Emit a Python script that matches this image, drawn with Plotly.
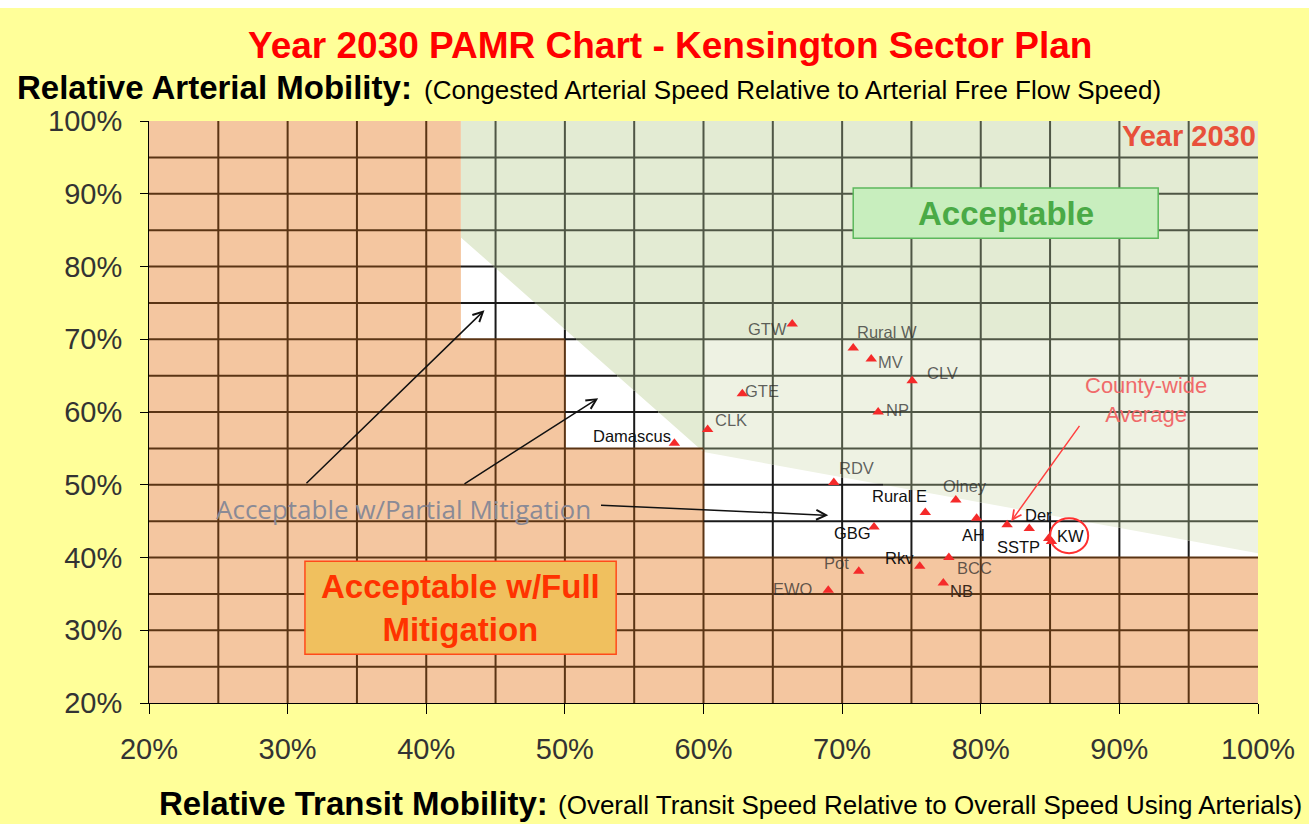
import numpy as np
import plotly.graph_objects as go

# ---- data -----------------------------------------------------------------
policy_areas = ["GTW", "Rural W", "MV", "CLV", "GTE", "NP", "CLK", "Damascus",
                "RDV", "Rural E", "Olney", "AH", "GBG", "County-wide Average",
                "Der", "SSTP", "KW", "Rkv", "BCC", "Pot", "NB", "EWO"]
# relative transit mobility, %
transit_mobility = [66.4, 70.8, 72.1, 75.05, 62.8, 72.6, 60.3, 57.9,
                    69.4, 76.0, 78.2, 79.7, 72.3, 81.9,
                    83.5, 84.9, 85.1, 75.6, 77.7, 71.2, 77.3, 69.0]
# relative arterial mobility, %
arterial_mobility = [72.1, 68.8, 67.3, 64.3, 62.5, 60.0, 57.6, 55.7,
                     50.3, 46.2, 47.9, 45.4, 44.2, 44.5,
                     44.0, 42.6, 42.2, 38.8, 40.0, 38.1, 36.5, 35.5]

# zone boundaries (%): full-mitigation staircase and acceptable line
full_mit_x = [20, 42.5, 42.5, 50, 50, 60, 60, 100]
full_mit_y = [100, 100, 70, 70, 55, 55, 40, 40]
accept_x = [42.5, 60, 100]
accept_y = [84, 54.5, 40.6]

tick_vals = [20, 30, 40, 50, 60, 70, 80, 90, 100]
tick_text = ["20%", "30%", "40%", "50%", "60%", "70%", "80%", "90%", "100%"]
grid_vals = list(range(25, 100, 5))

# ---- styling --------------------------------------------------------------
SANS = "Liberation Sans, Arial, sans-serif"
W, H = 1309, 824
ML, MR, MT, MB = 149, 51, 121, 121

ORANGE = "#f4c6a0"
GREEN_HI = "#e3ebd3"
GREEN_LO = "#eef2e3"
BROWN_GRID = "#5a3414"
BLACK_GRID = "#1a1a1a"
OLIVE_GRID = "#4f5645"
GRAY_LBL = "rgba(40,40,40,0.72)"
DARK_LBL = "#111111"

# label offsets in pixels (dx right, dy down) and label colour per area
label_style = {
    "GTW": (-25, 5, GRAY_LBL), "Rural W": (34, -16, GRAY_LBL),
    "MV": (19, 3, GRAY_LBL), "CLV": (30, -8, GRAY_LBL),
    "GTE": (20, -3, GRAY_LBL), "NP": (19, -2, GRAY_LBL),
    "CLK": (23, -9, GRAY_LBL), "Damascus": (-42, -7, DARK_LBL),
    "RDV": (23, -15, GRAY_LBL), "Rural E": (-26, -16, DARK_LBL),
    "Olney": (9, -14, GRAY_LBL), "AH": (-3, 17, DARK_LBL),
    "GBG": (-22, 6, DARK_LBL), "Der": (9, -13, DARK_LBL),
    "SSTP": (-30, 8, DARK_LBL), "KW": (19, -5, DARK_LBL),
    "Rkv": (-20, -8, DARK_LBL), "BCC": (26, 10, GRAY_LBL),
    "Pot": (-22, -8, GRAY_LBL), "NB": (18, 8, "#3a2a1c"),
    "EWO": (-35, -1, GRAY_LBL),
}


def px_x(px):
    return (px - ML) / (W - ML - MR)


def px_y(py):
    return (H - MB - py) / (H - MT - MB)


# horizontal steps of the full-mitigation staircase: (x_start, x_end, top)
steps = [(full_mit_x[i], full_mit_x[i + 1], full_mit_y[i])
         for i in range(len(full_mit_x) - 1) if full_mit_y[i] == full_mit_y[i + 1]]


def orange_top(x):
    for a, b, top in steps:
        if a < x <= b:
            return top
    return 20


def orange_right(h):
    return max(b for a, b, top in steps if top >= h)


def accept_at_x(x):
    return float(np.interp(x, accept_x, accept_y))


def accept_at_y(h):
    return float(np.interp(h, accept_y[::-1], accept_x[::-1]))


def path_from(xs, ys):
    pts = " L ".join(f"{x},{y}" for x, y in zip(xs, ys))
    return f"M {pts} Z"


shapes = []

# zone fills
orange_xs = [20] + full_mit_x + [100]
orange_ys = [20] + full_mit_y + [20]
shapes.append(dict(type="path", path=path_from(orange_xs, orange_ys),
                   xref="x", yref="y", fillcolor=ORANGE, line_width=0, layer="below"))
hi_xs = [accept_x[0], 100, 100, accept_x[1], accept_x[1], accept_x[0]]
hi_ys = [100, 100, 70, 70, accept_y[1], accept_y[0]]
shapes.append(dict(type="path", path=path_from(hi_xs, hi_ys),
                   xref="x", yref="y", fillcolor=GREEN_HI, line_width=0, layer="below"))
lo_xs = [accept_x[1], 100, accept_x[2], accept_x[1]]
lo_ys = [70, 70, accept_y[2], accept_y[1]]
shapes.append(dict(type="path", path=path_from(lo_xs, lo_ys),
                   xref="x", yref="y", fillcolor=GREEN_LO, line_width=0, layer="below"))


def seg(x0, y0, x1, y1, color):
    shapes.append(dict(type="line", x0=x0, y0=y0, x1=x1, y1=y1, xref="x", yref="y",
                       line=dict(color=color, width=2), layer="below"))


# grid lines coloured by the zone they cross
for v in grid_vals:
    top = orange_top(v)
    seg(v, 20, v, top, BROWN_GRID)
    if v > accept_x[0]:
        acc = accept_at_x(v)
        if acc > top:
            seg(v, top, v, acc, BLACK_GRID)
        seg(v, max(acc, top), v, 100, OLIVE_GRID)
for h in grid_vals:
    right = orange_right(h)
    seg(20, h, right, h, BROWN_GRID)
    if right < 100:
        acc = accept_at_y(h) if h < accept_y[0] else right
        if acc > right:
            seg(right, h, acc, h, BLACK_GRID)
        seg(max(acc, right), h, 100, h, OLIVE_GRID)

# label boxes
shapes.append(dict(type="rect", x0=70.8, x1=92.8, y0=83.9, y1=90.8, xref="x", yref="y",
                   fillcolor="#c8eebe", line=dict(color="#5cb85c", width=1.5), layer="above"))
shapes.append(dict(type="rect", x0=31.25, x1=53.7, y0=26.7, y1=39.5, xref="x", yref="y",
                   fillcolor="#f0c05e", line=dict(color="#ff4a1a", width=1.5), layer="above"))
# ring around KW
shapes.append(dict(type="circle", x0=85.0, x1=87.75, y0=40.6, y1=45.4, xref="x", yref="y",
                   line=dict(color="#ff3030", width=2), layer="above"))
# white strip along the top edge of the page
shapes.append(dict(type="rect", xref="paper", yref="paper", x0=px_x(0), x1=px_x(W),
                   y0=px_y(8), y1=px_y(0), fillcolor="white", line_width=0, layer="below"))

fig = go.Figure()
fig.add_trace(go.Scatter(
    x=transit_mobility, y=arterial_mobility, mode="markers",
    marker=dict(symbol="triangle-up", size=10, color="#f52a2a"),
    text=policy_areas, hoverinfo="text", showlegend=False, cliponaxis=False,
))

annotations = []
for name, xv, yv in zip(policy_areas, transit_mobility, arterial_mobility):
    if name not in label_style:
        continue
    dx, dy, col = label_style[name]
    annotations.append(dict(x=xv, y=yv, xref="x", yref="y", text=name, showarrow=False,
                            xshift=dx, yshift=-dy, xanchor="center", yanchor="middle",
                            font=dict(family=SANS, size=16.5, color=col)))

# arrows pointing into the partial-mitigation zone
for (tx, ty), (hx, hy) in [((31.25, 50.0), (44.2, 74.0)),
                           ((42.65, 50.0), (52.4, 61.9)),
                           ((52.5, 47.2), (69.0, 45.8))]:
    annotations.append(dict(x=hx, y=hy, ax=tx, ay=ty, xref="x", yref="y", axref="x", ayref="y",
                            text="", showarrow=True, arrowhead=5, arrowsize=1.3,
                            arrowwidth=1.5, arrowcolor="#111111"))
# county-wide average pointer
annotations.append(dict(x=82.2, y=45.0, ax=87.2, ay=58.3, xref="x", yref="y", axref="x", ayref="y",
                        text="", showarrow=True, arrowhead=5, arrowsize=1.2,
                        arrowwidth=1.5, arrowcolor="#ff4040"))


def page_text(px, py, text, size, color, anchor="center", bold=False):
    return dict(x=px_x(px), y=px_y(py), xref="paper", yref="paper",
                text=f"<b>{text}</b>" if bold else text, showarrow=False,
                xanchor=anchor, yanchor="middle",
                font=dict(family=SANS, size=size, color=color))


annotations += [
    dict(x=38.33, y=46.67, xref="x", yref="y", text="Acceptable w/Partial Mitigation",
         xanchor="center", yanchor="middle", showarrow=False,
         font=dict(family="Open Sans, " + SANS, size=26, color="#8a8a96")),
    dict(x=81.8, y=87.35, xref="x", yref="y", text="<b>Acceptable</b>",
         xanchor="center", yanchor="middle", showarrow=False,
         font=dict(family=SANS, size=33, color="#4aaa46")),
    dict(x=42.5, y=33.1, xref="x", yref="y", text="<b>Acceptable w/Full<br>Mitigation</b>",
         xanchor="center", yanchor="middle", showarrow=False,
         font=dict(family=SANS, size=33, color="#ff3300")),
    dict(x=100, y=100, xref="x", yref="y", text="<b>Year 2030</b>", xanchor="right",
         yanchor="top", yshift=3, showarrow=False,
         font=dict(family=SANS, size=29, color="#e8503a")),
    page_text(1146, 400, "County-wide<br>Average", 22, "#f06a6a"),
    # titles
    page_text(670, 45, "Year 2030 PAMR Chart - Kensington Sector Plan", 37, "#ff0000", bold=True),
    page_text(15, 88, "Relative Arterial Mobility:", 33, "#000000", anchor="left", bold=True),
    page_text(422, 90, "(Congested Arterial Speed Relative to Arterial Free Flow Speed)", 26,
              "#000000", anchor="left"),
    page_text(157, 803, "Relative Transit Mobility:", 33, "#000000", anchor="left", bold=True),
    page_text(556, 805, "(Overall Transit Speed Relative to Overall Speed Using Arterials)", 26,
              "#000000", anchor="left"),
]

axis_common = dict(range=[20, 100], tickvals=tick_vals, ticktext=tick_text,
                   showgrid=False, zeroline=False, showline=True, linecolor="#000000",
                   linewidth=1, ticks="outside", tickcolor="#000000", tickwidth=1,
                   tickfont=dict(family=SANS, size=29, color="#333333"), fixedrange=True)

fig.update_layout(
    width=W, height=H, autosize=False,
    margin=dict(l=ML, r=MR, t=MT, b=MB),
    paper_bgcolor="#ffff99", plot_bgcolor="#ffffff",
    xaxis=dict(**axis_common, ticklen=10, ticklabelstandoff=10),
    yaxis=dict(**axis_common, ticklen=8, ticklabelstandoff=12),
    shapes=shapes, annotations=annotations, showlegend=False,
)

fig.write_html("out.html")
